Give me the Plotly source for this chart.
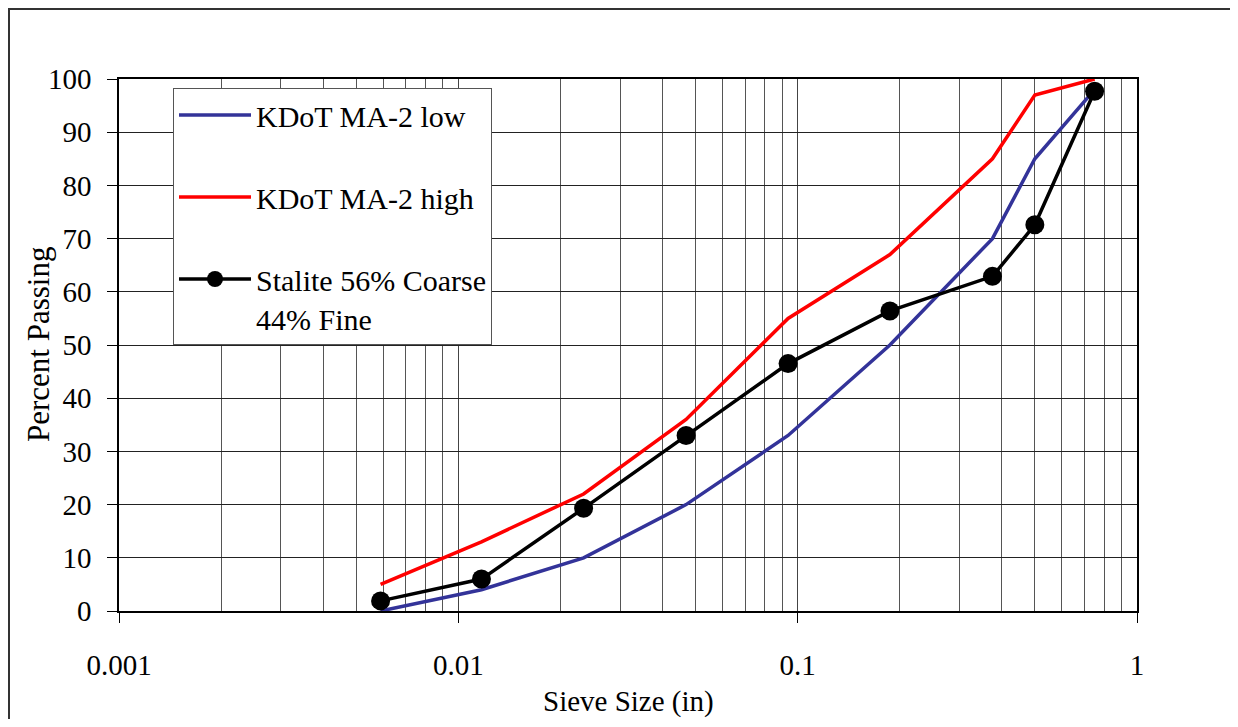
import plotly.graph_objects as go

sieve_in = [0.0059, 0.0117, 0.0234, 0.0469, 0.0937, 0.187, 0.375, 0.5, 0.75]
low = [0, 4, 10, 20, 33, 50, 70, 85, 98]
high = [5, 13, 22, 36, 55, 67, 85, 97, 100]
stalite = [1.9, 6.0, 19.3, 33.0, 46.5, 56.4, 62.9, 72.6, 97.7]

names = ["KDoT MA-2 low", "KDoT MA-2 high", "Stalite 56% Coarse<br>44% Fine"]
x_ticks = [0.001, 0.01, 0.1, 1]
x_ticktext = ["0.001", "0.01", "0.1", "1"]
y_ticks = list(range(0, 101, 10))

minor_vals = [m * d for d in [0.001, 0.01, 0.1] for m in range(2, 10)]

FONT = "Liberation Serif, Times New Roman, serif"

fig = go.Figure()
fig.add_trace(go.Scatter(x=sieve_in, y=low, mode="lines", name=names[0],
                         line=dict(color="#333399", width=3.5), legendgroup="a"))
fig.add_trace(go.Scatter(x=sieve_in, y=high, mode="lines", name=names[1],
                         line=dict(color="#FF0000", width=3.5), legendgroup="b"))
fig.add_trace(go.Scatter(x=sieve_in, y=stalite, mode="lines+markers", name=names[2],
                         line=dict(color="#000000", width=3.5),
                         marker=dict(color="#000000", size=19), legendgroup="c"))

# page has an 8px body margin, so the figure starts at (8, 8)
OFF = 8
W, H = 1238 - 2 * OFF, 727 - 2 * OFF
L, T = 119 - OFF, 79 - OFF
R = (W + OFF) - 1137
B = (H + OFF) - 611
pw = W - L - R
ph = H - T - B

fig.update_layout(
    width=W, height=H,
    margin=dict(l=L, r=R, t=T, b=B, autoexpand=False),
    paper_bgcolor="white", plot_bgcolor="white",
    font=dict(family=FONT, size=29, color="black"),
    showlegend=True,
    legend=dict(x=(173 - 119) / pw, y=1 - (88 - 79) / ph, xanchor="left", yanchor="top",
                bgcolor="white", bordercolor="#555555", borderwidth=1,
                font=dict(family=FONT, size=30, color="black"),
                tracegroupgap=40, traceorder="grouped", itemwidth=72, valign="top"),
    xaxis=dict(type="log", range=[-3, 0], tickvals=x_ticks, ticktext=x_ticktext,
               ticks="outside", ticklen=10, tickcolor="black", tickwidth=1,
               showline=True, linecolor="black", linewidth=1.5, mirror=True,
               showgrid=True, gridcolor="#444444", gridwidth=1,
               minor=dict(tickvals=minor_vals, showgrid=True, gridcolor="#555555",
                          gridwidth=1, ticks=""),
               ticklabelstandoff=17, automargin=False,
               tickfont=dict(family=FONT, size=29),
               zeroline=False),
    yaxis=dict(range=[0, 100], tickvals=y_ticks,
               ticks="outside", ticklen=10, tickcolor="black", tickwidth=1,
               showline=True, linecolor="black", linewidth=1.5, mirror=True,
               showgrid=True, gridcolor="#222222", gridwidth=1,
               ticklabelstandoff=10, automargin=False,
               tickfont=dict(family=FONT, size=29),
               zeroline=False),
)

# axis titles placed as text in paper coordinates
fig.add_annotation(text="Percent Passing", xref="paper", yref="paper",
                   x=(38 - 119) / pw, y=0.5, xanchor="center", yanchor="middle",
                   textangle=-90, showarrow=False,
                   font=dict(family=FONT, size=31, color="black"))
fig.add_annotation(text="Sieve Size (in)", xref="paper", yref="paper",
                   x=0.5, y=-(701 - 611) / ph, xanchor="center", yanchor="middle",
                   showarrow=False,
                   font=dict(family=FONT, size=29, color="black"))

# outer chart frame as thin filled bars (top and left edges)
fx = (8 - 119) / pw
fy = 1 + (79 - 8) / ph
bw = 2 / pw
bh = 2 / ph
fig.add_shape(type="rect", xref="paper", yref="paper", x0=fx, x1=1.2,
              y0=fy - bh, y1=fy, line=dict(width=0), fillcolor="#333333", layer="below")
fig.add_shape(type="rect", xref="paper", yref="paper", x0=fx, x1=fx + bw,
              y0=-0.3, y1=fy, line=dict(width=0), fillcolor="#333333", layer="below")

fig.write_html("out.html")
